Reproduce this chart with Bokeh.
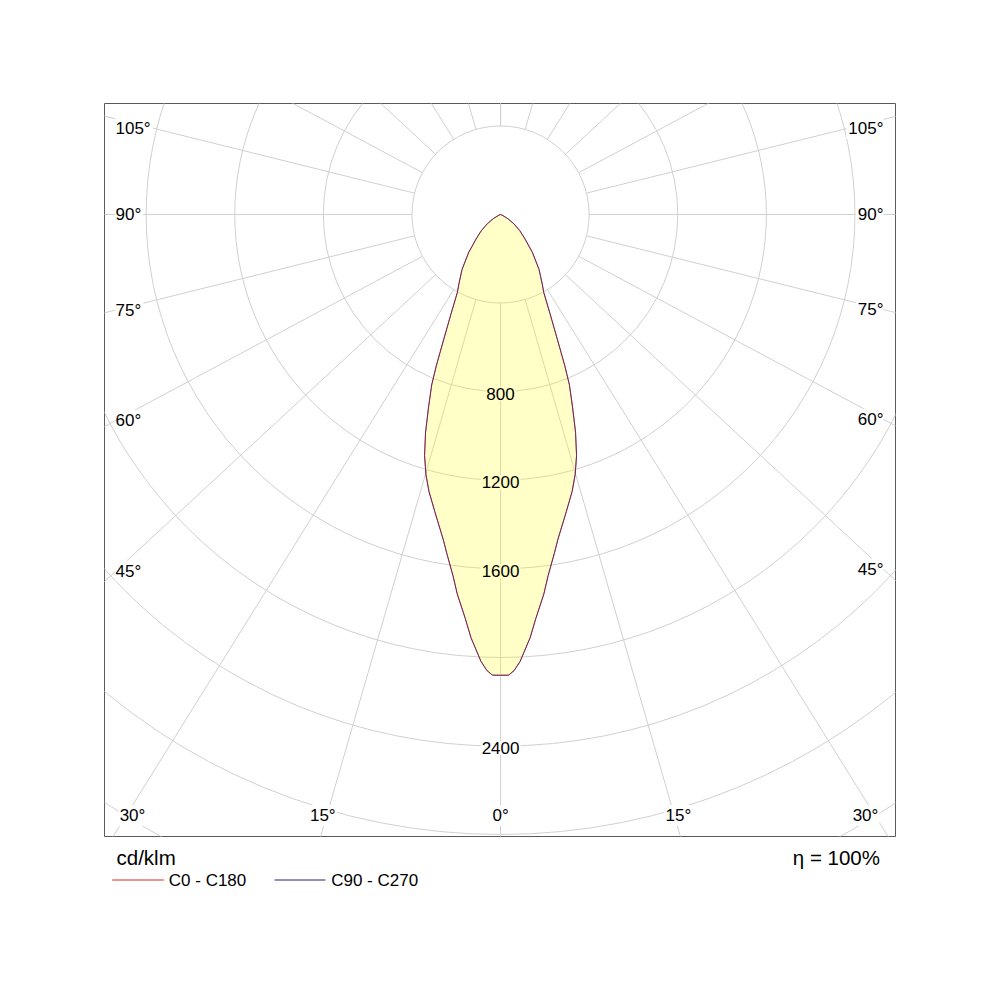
import math
from bokeh.plotting import figure
from bokeh.layouts import column
from bokeh.models import Range1d
from bokeh.core.properties import value
from bokeh.embed import file_html
from bokeh.resources import INLINE

# ---- data (cd/klm) ----
gamma_deg = [0, 1, 1.7, 2.5, 4, 5, 6.5, 7.5, 9, 10, 12.5, 14.5, 16, 17.5, 19, 20.5,
             22, 23, 24.5, 26.5, 29, 31, 35, 40, 45, 50, 55, 60, 65, 70, 90, 180]
i_c0_c180 = [2080, 2080, 2060, 2020, 1915, 1830, 1725, 1645, 1550, 1490, 1373, 1291,
             1222, 1141, 1040, 928, 830, 743, 617, 501, 402, 365, 303, 224, 156, 113,
             73, 38, 12, 0, 0, 0]
i_c90_c270 = [2080, 2080, 2060, 2020, 1915, 1830, 1725, 1645, 1550, 1490, 1373, 1291,
              1222, 1141, 1040, 928, 830, 743, 617, 501, 402, 365, 303, 224, 156, 113,
              73, 38, 12, 0, 0, 0]
ring_values = [400, 800, 1200, 1600, 2000, 2400, 2800, 3200]
ring_labels = [800, 1200, 1600, 2400]
ray_angles = list(range(-180, 181, 15))
side_label_angles = [45, 60, 75, 90, 105]
bottom_label_angles = [0, 15, 30]
unit_text = "cd/klm"
eta_text = "η = 100%"
series_names = ["C0 - C180", "C90 - C270"]
series_colors = ["#d42a2a", "#22227f"]

# ---- layout / style ----
FONT = value("Liberation Sans")
GRID = "#d0d0d0"
FRAME_W, FRAME_H = 791, 733
X0, X1 = -1788, 1783
Y0, Y1 = -2808, 501
PX = FRAME_W / (X1 - X0)
K = FRAME_W / FRAME_H
BL, BR, BT, BB = 104, 97, 103, 4

p = figure(frame_width=FRAME_W, frame_height=FRAME_H,
           x_range=Range1d(X0, X1), y_range=Range1d(Y0, Y1),
           output_backend="svg", toolbar_location=None,
           x_axis_location=None, y_axis_location=None,
           min_border_left=BL, min_border_right=BR, min_border_top=BT, min_border_bottom=BB)
p.grid.visible = False
p.outline_line_color = "#5a5a5a"
p.outline_line_width = 1
p.background_fill_color = "white"
p.border_fill_color = "white"

# rings
p.circle(x=[0] * len(ring_values), y=[0] * len(ring_values), radius=ring_values,
         fill_color=None, line_color=GRID, line_width=1)

# rays (start at innermost ring)
r_in = ring_values[0]
x0s, y0s, x1s, y1s = [], [], [], []
for a in ray_angles:
    th = math.radians(a)
    dx, dy = K * math.sin(th), -math.cos(th)
    n = math.hypot(dx, dy)
    dx, dy = dx / n, dy / n
    x0s.append(r_in * dx); y0s.append(r_in * dy)
    x1s.append(8000 * dx); y1s.append(8000 * dy)
p.segment(x0s, y0s, x1s, y1s, line_color=GRID, line_width=1)

# ---- label positions ----
lab_x, lab_y, lab_t, lab_align, lab_off = [], [], [], [], []
for v in ring_labels:
    lab_x.append(0); lab_y.append(-v); lab_t.append(str(v)); lab_align.append("center"); lab_off.append(2)

xl = X0 + 11 / PX
xr = X1 - 12 / PX
ymax = Y1 - 25 / PX
for a in side_label_angles:
    th = math.radians(a)
    t = (-xl) / (K * math.sin(th))
    lab_x.append(xl); lab_y.append(min(-math.cos(th) * t, ymax)); lab_t.append(f"{a}°")
    lab_align.append("left"); lab_off.append(0)
    t = xr / (K * math.sin(th))
    lab_x.append(xr); lab_y.append(min(-math.cos(th) * t, ymax)); lab_t.append(f"{a}°")
    lab_align.append("right"); lab_off.append(0)

yb = Y0 + 21 / PX
for sign in (-1, 1):
    for a in bottom_label_angles:
        if a == 0 and sign == 1:
            continue
        th = math.radians(a)
        t = -yb / math.cos(th)
        x = sign * K * math.sin(th) * t + (sign * 4 / PX if a else 0)
        x = max(min(x, X1 - 30 / PX), X0 + 28 / PX)
        lab_x.append(x); lab_y.append(yb); lab_t.append(f"{a}°")
        lab_align.append("center"); lab_off.append(0)

labels = dict(x=lab_x, y=lab_y, text=lab_t, align=lab_align, off=lab_off)

# label backgrounds (under the translucent fill)
p.text(x="x", y="y", text="text", source=labels, text_align="align", y_offset="off",
       text_font=FONT, text_font_size="17px", text_color="white",
       text_baseline="middle", background_fill_color="white", padding=1)


def contour(gam, inten):
    xs, ys = [], []
    for g, v in zip(reversed(gam), reversed(inten)):  # left half, 180 -> 0
        th = math.radians(g)
        xs.append(-v * math.sin(th)); ys.append(-v * math.cos(th))
    for g, v in zip(gam[1:], inten[1:]):  # right half, 0 -> 180
        th = math.radians(g)
        xs.append(v * math.sin(th)); ys.append(-v * math.cos(th))
    return xs, ys


cx0, cy0 = contour(gamma_deg, i_c0_c180)
cx9, cy9 = contour(gamma_deg, i_c90_c270)

p.patch(cx0, cy0, fill_color="#ffff00", fill_alpha=0.22, line_color=None)
p.line(cx0, cy0, line_color=series_colors[0], line_width=1)
p.line(cx9, cy9, line_color=series_colors[1], line_width=1, line_alpha=0.6)

# label texts on top
p.text(x="x", y="y", text="text", source=labels, text_align="align", y_offset="off",
       text_font=FONT, text_font_size="17px", text_color="black", text_baseline="middle")

# ---- legend strip below the diagram ----
LH = 60
lg = figure(frame_width=FRAME_W, frame_height=LH, x_range=Range1d(0, FRAME_W), y_range=Range1d(LH, 0),
            output_backend="svg", toolbar_location=None,
            x_axis_location=None, y_axis_location=None,
            min_border_left=BL, min_border_right=BR, min_border_top=0, min_border_bottom=0)
lg.grid.visible = False
lg.outline_line_color = None
lg.background_fill_color = "white"
lg.border_fill_color = "white"

lg.text(x=[12], y=[17.3], text=[unit_text], text_font=FONT, text_font_size="20.5px",
        text_color="black", text_align="left", text_baseline="middle")
lg.text(x=[775.5], y=[17.3], text=[eta_text], text_font=FONT, text_font_size="20.5px",
        text_color="black", text_align="right", text_baseline="middle")
lg.segment(x0=[7.7, 170], y0=[39.5, 39.5], x1=[59.3, 221], y1=[39.5, 39.5],
           line_color=series_colors, line_width=1)
lg.text(x=[64.3, 226.7], y=[39.5, 39.5], text=series_names, text_font=FONT,
        text_font_size="17px", text_color="black", text_align="left", text_baseline="middle")

layout = column(p, lg)
open("out.html", "w").write(file_html(layout, INLINE))
